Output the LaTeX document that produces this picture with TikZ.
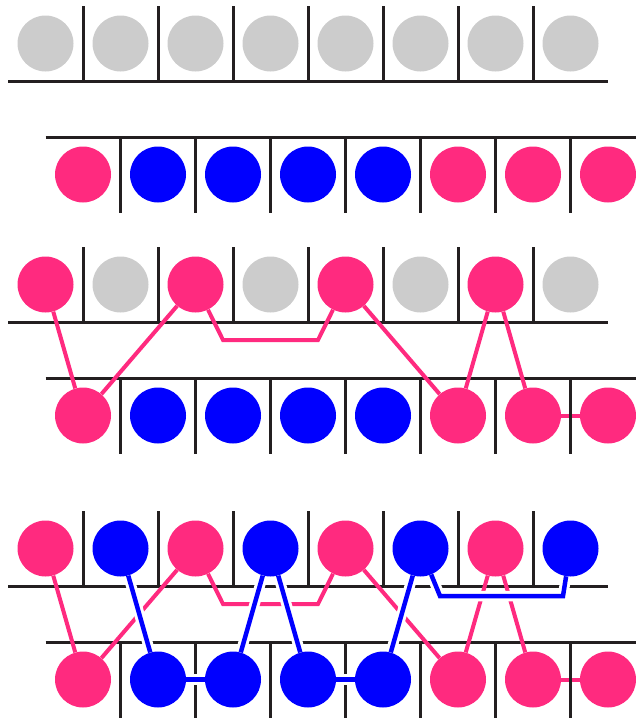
\documentclass[tikz,border=0pt]{standalone}
\usepackage{xcolor}
\usetikzlibrary{backgrounds}
\definecolor{dotpink}{RGB}{255,42,127}
\definecolor{dotblue}{RGB}{0,0,255}
\definecolor{dotgray}{RGB}{204,204,204}
\definecolor{railgray}{RGB}{35,31,32}

\begin{document}
\begin{tikzpicture}[x=1pt,y=-1pt,
  dot/.style={circle,inner sep=0pt,minimum size=56pt,fill=#1},
  rail/.style={railgray,line width=3pt},
  pinkline/.style={dotpink,line width=4pt},
  blueline/.style={dotblue,line width=4.5pt,preaction={draw=white,line width=10.5pt}}]
\useasboundingbox (0,0) rectangle (636,718);
% three strands: a top row and a bottom row each
\foreach \p/\y/\oddcol/\evencol in {a/81/dotgray/dotgray,b/322/dotpink/dotgray,c/586/dotpink/dotblue} {
  \foreach \i in {1,...,8} {
    \ifodd\i \def\c{\oddcol}\else\def\c{\evencol}\fi
    \node[dot=\c] (\p-t\i) at ({45.5+75*(\i-1)},{\y-37.5}) {};
  }
  \foreach \c [count=\i] in {dotpink,dotblue,dotblue,dotblue,dotblue,dotpink,dotpink,dotpink}
    \node[dot=\c] (\p-b\i) at ({83+75*(\i-1)},{\y+93.5}) {};
}
\begin{scope}[on background layer]
\foreach \p in {b,c} \draw[pinkline] (\p-b7) -- (\p-b8);
% rails
\foreach \y in {81,322,586} {
  \draw[rail] (8,\y) -- (608,\y);
  \draw[rail] (45.5,{\y+56}) -- (636,{\y+56});
  \foreach \k in {0,...,6} {
    \draw[rail] ({83+75*\k},{\y-75}) -- ({83+75*\k},\y);
    \draw[rail] ({120.5+75*\k},{\y+56}) -- ({120.5+75*\k},{\y+132});
  }
}
% pink links
\foreach \p/\y in {b/322,c/586} {
  \coordinate (\p-l) at (223,{\y+18});
  \coordinate (\p-r) at (318,{\y+18});
  \draw[pinkline] (\p-t1) -- (\p-b1);
  \draw[pinkline] (\p-t3) -- (\p-b1);
  \draw[pinkline] (\p-t3) -- (\p-l) -- (\p-r) -- (\p-t5);
  \draw[pinkline] (\p-t5) -- (\p-b6);
  \draw[pinkline] (\p-t7) -- (\p-b6);
  \draw[pinkline] (\p-t7) -- (\p-b7);
}
% blue links
\coordinate (c-bl) at (440,596);
\coordinate (c-br) at (563,596);
\draw[blueline] (c-t2) -- (c-b2);
\draw[blueline] (c-b2) -- (c-b3);
\draw[blueline] (c-t4) -- (c-b3);
\draw[blueline] (c-t4) -- (c-b4);
\draw[blueline] (c-b4) -- (c-b5);
\draw[blueline] (c-t6) -- (c-b5);
\draw[blueline] (c-t6) -- (c-bl) -- (c-br) -- (c-t8);
\end{scope}
\end{tikzpicture}
\end{document}
